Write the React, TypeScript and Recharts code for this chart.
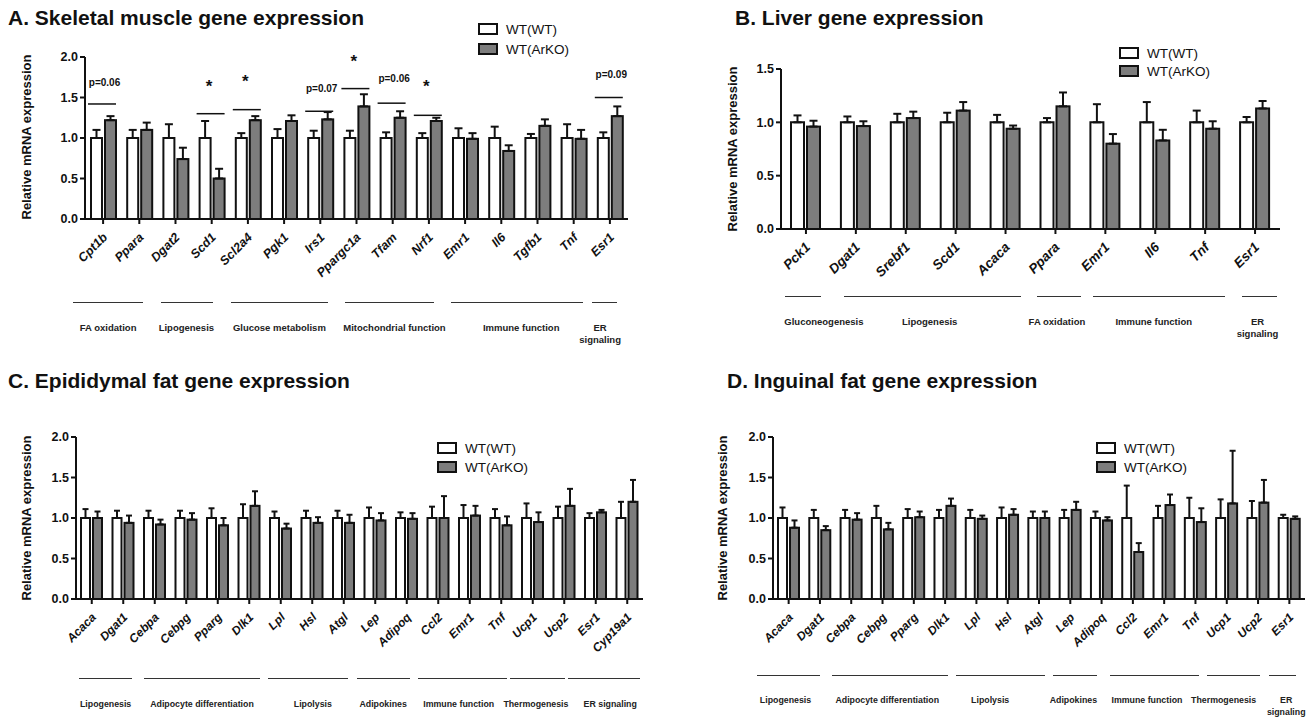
import React from 'react';
import { BarChart, Bar, XAxis, YAxis, ErrorBar } from 'recharts';

const FONT = 'Arial, "Liberation Sans", Helvetica, sans-serif';
const INK = '#111';
const GREY = '#7d7d7d';

const seriesNames = ['WT(WT)', 'WT(ArKO)'];

// A. skeletal muscle
const muscleGenes = ['Cpt1b', 'Ppara', 'Dgat2', 'Scd1', 'Scl2a4', 'Pgk1', 'Irs1', 'Ppargc1a', 'Tfam', 'Nrf1', 'Emr1', 'Il6', 'Tgfb1', 'Tnf', 'Esr1'];
const muscleWt = [1, 1, 1, 1, 1, 1, 1, 1, 1, 1, 1, 1, 1, 1, 1];
const muscleWtSem = [0.1, 0.1, 0.17, 0.21, 0.06, 0.11, 0.09, 0.09, 0.07, 0.06, 0.12, 0.14, 0.05, 0.17, 0.07];
const muscleArko = [1.22, 1.1, 0.74, 0.5, 1.22, 1.21, 1.23, 1.39, 1.25, 1.21, 0.99, 0.84, 1.15, 0.99, 1.27];
const muscleArkoSem = [0.05, 0.09, 0.14, 0.12, 0.05, 0.07, 0.09, 0.15, 0.08, 0.04, 0.07, 0.07, 0.08, 0.11, 0.12];
const muscleTicks = [0, 0.5, 1, 1.5, 2];
const muscleGroups = ['FA oxidation', 'Lipogenesis', 'Glucose metabolism', 'Mitochondrial function', 'Immune function', 'ER\nsignaling'];
const muscleSig = [
  { gene: 'Cpt1b', mark: 'p=0.06', lineAt: 1.42, textAt: 1.69 },
  { gene: 'Scd1', mark: '*', lineAt: 1.3, textAt: 1.69 },
  { gene: 'Scl2a4', mark: '*', lineAt: 1.35, textAt: 1.75 },
  { gene: 'Irs1', mark: 'p=0.07', lineAt: 1.33, textAt: 1.61 },
  { gene: 'Ppargc1a', mark: '*', lineAt: 1.61, textAt: 1.99 },
  { gene: 'Tfam', mark: 'p=0.06', lineAt: 1.43, textAt: 1.74 },
  { gene: 'Nrf1', mark: '*', lineAt: 1.28, textAt: 1.68 },
  { gene: 'Esr1', mark: 'p=0.09', lineAt: 1.5, textAt: 1.78 },
];

// B. liver
const liverGenes = ['Pck1', 'Dgat1', 'Srebf1', 'Scd1', 'Acaca', 'Ppara', 'Emr1', 'Il6', 'Tnf', 'Esr1'];
const liverWt = [1, 1, 1, 1, 1, 1, 1, 1, 1, 1];
const liverWtSem = [0.065, 0.055, 0.08, 0.09, 0.07, 0.04, 0.17, 0.19, 0.11, 0.05];
const liverArko = [0.96, 0.965, 1.04, 1.11, 0.94, 1.15, 0.8, 0.83, 0.94, 1.13];
const liverArkoSem = [0.055, 0.045, 0.06, 0.08, 0.03, 0.13, 0.09, 0.1, 0.07, 0.07];
const liverTicks = [0, 0.5, 1, 1.5];
const liverGroups = ['Gluconeogenesis', 'Lipogenesis', 'FA oxidation', 'Immune function', 'ER\nsignaling'];

// C. epididymal fat
const epiGenes = ['Acaca', 'Dgat1', 'Cebpa', 'Cebpg', 'Pparg', 'Dlk1', 'Lpl', 'Hsl', 'Atgl', 'Lep', 'Adipoq', 'Ccl2', 'Emr1', 'Tnf', 'Ucp1', 'Ucp2', 'Esr1', 'Cyp19a1'];
const epiWt = [1, 1, 1, 1, 1, 1, 1, 1, 1, 1, 1, 1, 1, 1, 1, 1, 1, 1];
const epiWtSem = [0.11, 0.09, 0.09, 0.09, 0.12, 0.17, 0.08, 0.09, 0.09, 0.13, 0.07, 0.14, 0.16, 0.11, 0.18, 0.14, 0.06, 0.2];
const epiArko = [1.0, 0.94, 0.92, 0.98, 0.91, 1.15, 0.87, 0.94, 0.94, 0.97, 0.99, 1.0, 1.03, 0.91, 0.95, 1.15, 1.07, 1.2];
const epiArkoSem = [0.08, 0.09, 0.06, 0.08, 0.09, 0.18, 0.06, 0.07, 0.1, 0.09, 0.07, 0.27, 0.12, 0.11, 0.12, 0.21, 0.03, 0.27];
const fatTicks = [0, 0.5, 1, 1.5, 2];
const epiGroups = ['Lipogenesis', 'Adipocyte differentiation', 'Lipolysis', 'Adipokines', 'Immune function', 'Thermogenesis', 'ER signaling'];

// D. inguinal fat
const ingGenes = ['Acaca', 'Dgat1', 'Cebpa', 'Cebpg', 'Pparg', 'Dlk1', 'Lpl', 'Hsl', 'Atgl', 'Lep', 'Adipoq', 'Ccl2', 'Emr1', 'Tnf', 'Ucp1', 'Ucp2', 'Esr1'];
const ingWt = [1, 1, 1, 1, 1, 1, 1, 1, 1, 1, 1, 1, 1, 1, 1, 1, 1];
const ingWtSem = [0.13, 0.1, 0.1, 0.15, 0.11, 0.1, 0.1, 0.13, 0.08, 0.1, 0.08, 0.4, 0.15, 0.25, 0.23, 0.21, 0.04];
const ingArko = [0.88, 0.85, 0.98, 0.86, 1.01, 1.15, 0.99, 1.04, 1.0, 1.1, 0.97, 0.58, 1.16, 0.95, 1.18, 1.19, 0.99];
const ingArkoSem = [0.09, 0.05, 0.08, 0.08, 0.07, 0.09, 0.04, 0.07, 0.08, 0.1, 0.04, 0.11, 0.13, 0.17, 0.65, 0.28, 0.03];
const ingGroups = ['Lipogenesis', 'Adipocyte differentiation', 'Lipolysis', 'Adipokines', 'Immune function', 'Thermogenesis', 'ER\nsignaling'];

// layout: group bracket spans in category units [from, to, label centre]
const muscleSpans = [[-0.83, 1.1, 0.14], [1.6, 3.04, 2.3], [3.54, 6.22, 4.87], [6.69, 9.14, 8.05], [9.61, 13.26, 11.55], [13.51, 14.2, 13.73]];
const liverSpans = [[-0.42, 0.3, 0.36], [0.76, 4.31, 2.48], [4.63, 5.51, 5.03], [5.75, 8.4, 6.97], [8.74, 9.44, 9.05]];
const epiSpans = [[-0.41, 1.27, 0.44], [1.65, 5.34, 3.5], [5.59, 8.13, 7.02], [8.42, 10.1, 9.25], [10.36, 13.19, 11.65], [13.28, 15.03, 14.1], [15.13, 17.41, 16.46]];
const ingSpans = [[-1.01, 1.0, -0.1], [1.39, 5.1, 3.15], [5.35, 8.2, 6.44], [8.46, 9.86, 9.1], [10.28, 13.12, 11.45], [13.38, 15.07, 13.9], [15.36, 16.2, 15.9]];

const toRows = (genes: string[], wt: number[], wtSem: number[], arko: number[], arkoSem: number[]) =>
  genes.map((gene, i) => ({
    gene,
    wt: wt[i],
    wtErr: [0, wtSem[i]],
    arko: arko[i],
    arkoErr: [0, arkoSem[i]],
  }));

function GeneTick(props: any) {
  const { x, y, payload, size } = props;
  const ax = x + 5;
  const ay = y + 12;
  return (
    <text
      x={ax}
      y={ay}
      transform={`rotate(-45 ${ax} ${ay})`}
      textAnchor="end"
      fontSize={size}
      fontWeight="bold"
      fontStyle="italic"
      fontFamily={FONT}
      fill={INK}
    >
      {payload.value}
    </text>
  );
}

// grey bar that can also carry a significance bracket
const arkoShape = (notes: typeof muscleSig, gap: number) => (props: any) => {
  const { x, y, width, height, payload } = props;
  const note = notes.find(n => n.gene === payload.gene);
  const bar = <rect x={x} y={y} width={width} height={height} fill={GREY} stroke={INK} strokeWidth={2} />;
  if (!note) return bar;
  const base = y + height;
  const unit = height / payload.arko;
  const mid = x - gap / 2;
  const ly = base - note.lineAt * unit;
  const ty = base - note.textAt * unit;
  const star = note.mark === '*';
  return (
    <g>
      {bar}
      <line x1={x - gap - width - 3} x2={x + width} y1={ly} y2={ly} stroke={INK} strokeWidth={1.5} />
      <text
        x={star ? mid - 3 : mid + 1}
        y={star ? ty + 4 : ty}
        textAnchor="middle"
        dominantBaseline="central"
        fontSize={star ? 17 : 10}
        fontWeight="bold"
        fontFamily={FONT}
        fill={INK}
      >
        {note.mark}
      </text>
    </g>
  );
};

function Panel(p: any) {
  const axisStyle = { stroke: INK, strokeWidth: 2 };
  return (
    <div style={{ position: 'absolute', left: p.left, top: p.top }}>
      <BarChart width={p.width} height={p.height} data={p.rows} margin={p.margin} barSize={p.barSize} barGap={p.barGap}>
        <XAxis
          dataKey="gene"
          interval={0}
          height={60}
          tickSize={5}
          axisLine={axisStyle}
          tickLine={axisStyle}
          tick={(t: any) => <GeneTick {...t} size={p.tickFont} />}
        />
        <YAxis
          type="number"
          domain={[0, p.ticks[p.ticks.length - 1]]}
          ticks={p.ticks}
          interval={0}
          width={60}
          tickSize={5}
          axisLine={axisStyle}
          tickLine={axisStyle}
          tickFormatter={(v: number) => v.toFixed(1)}
          tick={{ fontSize: 12.5, fontWeight: 'bold', fill: INK, fontFamily: FONT }}
        />
        <Bar dataKey="wt" name={seriesNames[0]} fill="#fff" stroke={INK} strokeWidth={2} isAnimationActive={false}>
          <ErrorBar dataKey="wtErr" width={p.cap} stroke={INK} strokeWidth={2} direction="y" />
        </Bar>
        <Bar
          dataKey="arko"
          name={seriesNames[1]}
          fill={GREY}
          stroke={INK}
          strokeWidth={2}
          isAnimationActive={false}
          shape={arkoShape(p.notes || [], p.barGap)}
        >
          <ErrorBar dataKey="arkoErr" width={p.cap} stroke={INK} strokeWidth={2} direction="y" />
        </Bar>
      </BarChart>
    </div>
  );
}

function Groups({ names, spans, plotLeft, plotRight, count, lineTop, labelTop, font }: any) {
  const band = (plotRight - plotLeft) / count;
  const px = (i: number) => plotLeft + (i + 0.5) * band;
  return (
    <>
      {names.map((name: string, k: number) => {
        const [a, b, c] = spans[k];
        return (
          <React.Fragment key={name}>
            <div
              style={{
                position: 'absolute',
                left: px(a),
                width: px(b) - px(a),
                top: lineTop,
                borderTop: '1.5px solid #333',
              }}
            />
            <div
              style={{
                position: 'absolute',
                left: px(c) - 80,
                width: 160,
                top: labelTop - 6,
                textAlign: 'center',
                fontSize: font,
                lineHeight: '11.5px',
                fontWeight: 'bold',
                whiteSpace: 'pre',
                color: '#222',
              }}
            >
              {name}
            </div>
          </React.Fragment>
        );
      })}
    </>
  );
}

function Key({ left, top, gap }: any) {
  const fills = ['#fff', GREY];
  return (
    <>
      {seriesNames.map((s, i) => (
        <div key={s} style={{ position: 'absolute', left, top: top + i * gap - 8, height: 16, display: 'flex', alignItems: 'center' }}>
          <div style={{ width: 16, height: 8, border: `2px solid ${INK}`, background: fills[i] }} />
          <span style={{ marginLeft: 8, fontSize: 13.5, color: INK }}>{s}</span>
        </div>
      ))}
    </>
  );
}

function Title({ left, top, children }: any) {
  return (
    <div style={{ position: 'absolute', left, top: top - 12, lineHeight: '24px', fontSize: 21, fontWeight: 'bold', color: INK, whiteSpace: 'nowrap' }}>
      {children}
    </div>
  );
}

function YLabel({ cx, cy }: any) {
  return (
    <div
      style={{
        position: 'absolute',
        left: cx - 110,
        top: cy - 8,
        width: 220,
        height: 16,
        lineHeight: '16px',
        textAlign: 'center',
        fontSize: 13,
        fontWeight: 'bold',
        color: INK,
        transform: 'rotate(-90deg)',
        whiteSpace: 'nowrap',
      }}
    >
      Relative mRNA expression
    </div>
  );
}

export default function App() {
  const muscleRows = toRows(muscleGenes, muscleWt, muscleWtSem, muscleArko, muscleArkoSem);
  const liverRows = toRows(liverGenes, liverWt, liverWtSem, liverArko, liverArkoSem);
  const epiRows = toRows(epiGenes, epiWt, epiWtSem, epiArko, epiArkoSem);
  const ingRows = toRows(ingGenes, ingWt, ingWtSem, ingArko, ingArkoSem);

  return (
    <div style={{ position: 'absolute', left: 0, top: 0, width: 1309, height: 717, background: '#fff', overflow: 'hidden', fontFamily: FONT }}>
      <Title left={8} top={18}>A. Skeletal muscle gene expression</Title>
      <Title left={735} top={18}>B. Liver gene expression</Title>
      <Title left={8} top={381}>C. Epididymal fat gene expression</Title>
      <Title left={727} top={381}>D. Inguinal fat gene expression</Title>

      <YLabel cx={27} cy={137} />
      <YLabel cx={733} cy={149} />
      <YLabel cx={27} cy={518} />
      <YLabel cx={723} cy={518} />

      <Panel
        left={0} top={0} width={640} height={300}
        margin={{ top: 57, right: 12, bottom: 21, left: 25 }}
        rows={muscleRows} ticks={muscleTicks} barSize={11} barGap={3} cap={4} tickFont={12.5}
        notes={muscleSig}
      />
      <Panel
        left={700} top={0} width={600} height={310}
        margin={{ top: 69, right: 20, bottom: 21, left: 21 }}
        rows={liverRows} ticks={liverTicks} barSize={13} barGap={3} cap={4} tickFont={13.5}
      />
      <Panel
        left={0} top={380} width={660} height={280}
        margin={{ top: 57, right: 17, bottom: 1, left: 16 }}
        rows={epiRows} ticks={fatTicks} barSize={9} barGap={3} cap={3} tickFont={12}
      />
      <Panel
        left={700} top={380} width={609} height={280}
        margin={{ top: 57, right: 4, bottom: 1, left: 13 }}
        rows={ingRows} ticks={fatTicks} barSize={9} barGap={3} cap={3} tickFont={12}
      />

      <Key left={478} top={29} gap={20} />
      <Key left={1119} top={53} gap={18} />
      <Key left={437} top={448} gap={19} />
      <Key left={1096} top={448} gap={19} />

      <Groups names={muscleGroups} spans={muscleSpans} plotLeft={85} plotRight={628} count={muscleGenes.length} lineTop={302} labelTop={328} font={9.5} />
      <Groups names={liverGroups} spans={liverSpans} plotLeft={781} plotRight={1280} count={liverGenes.length} lineTop={296} labelTop={322} font={9.5} />
      <Groups names={epiGroups} spans={epiSpans} plotLeft={76} plotRight={643} count={epiGenes.length} lineTop={678} labelTop={705} font={8.8} />
      <Groups names={ingGroups} spans={ingSpans} plotLeft={773} plotRight={1305} count={ingGenes.length} lineTop={675} labelTop={701} font={8.8} />
    </div>
  );
}
